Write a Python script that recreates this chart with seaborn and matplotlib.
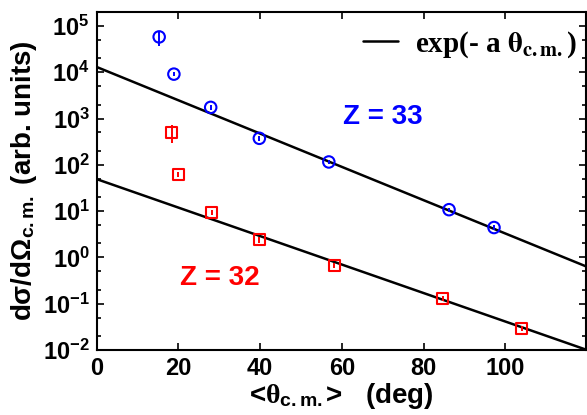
import numpy as np
import pandas as pd
import matplotlib
matplotlib.use("Agg")
import matplotlib.pyplot as plt
from matplotlib.ticker import LogLocator, FuncFormatter, FixedLocator, NullFormatter
from matplotlib.font_manager import FontProperties
import seaborn as sns

# ---- data ----
theta_z33 = [15.3, 18.9, 27.9, 39.8, 56.8, 86.2, 97.2]
sigma_z33 = [5.8e4, 9.1e3, 1.74e3, 373, 115, 10.7, 4.4]
err_z33 = [2.1e4, 1.0e3, 2.0e2, 40, 12, 1.2, 0.5]

theta_z32 = [18.4, 20.0, 28.1, 39.8, 58.1, 84.7, 104.0]
sigma_z32 = [500, 62, 9.3, 2.38, 0.68, 0.13, 0.0295]
err_z32 = [210, 8, 1.2, 0.3, 0.08, 0.015, 0.004]

# exponential curves A*exp(-a*theta)
amp_z33, slope_z33 = 1.3e4, 0.0829
amp_z32, slope_z32 = 49.0, 0.0709

x_ticks = [0, 20, 40, 60, 80, 100]
y_exps = [-2, -1, 0, 1, 2, 3, 4, 5]

sns.set_style("ticks")
plt.rcParams['font.family'] = ['Liberation Sans', 'DejaVu Sans']
plt.rcParams['font.weight'] = 'bold'
plt.rcParams['text.color'] = 'black'
plt.rcParams['axes.labelcolor'] = 'black'
plt.rcParams['xtick.color'] = 'black'
plt.rcParams['ytick.color'] = 'black'
plt.rcParams['mathtext.fontset'] = 'custom'
plt.rcParams['mathtext.rm'] = 'Liberation Sans:bold'
plt.rcParams['mathtext.bf'] = 'Liberation Sans:bold'
plt.rcParams['mathtext.it'] = 'Liberation Serif'
plt.rcParams['mathtext.sf'] = 'Liberation Sans:bold'

fig = plt.figure(figsize=(5.87, 4.15), dpi=100)
ax = fig.add_axes([0.1646, 0.157, 0.833, 0.814])

xmax = 119.6
th = np.linspace(0, xmax, 300)
df_fit = pd.DataFrame({
    'theta': np.concatenate([th, th]),
    'sigma': np.concatenate([amp_z33 * np.exp(-slope_z33 * th),
                             amp_z32 * np.exp(-slope_z32 * th)]),
    'set': ['Z33'] * len(th) + ['Z32'] * len(th),
})
sns.lineplot(data=df_fit[df_fit['set'] == 'Z33'], x='theta', y='sigma', color='black',
             lw=1.8, ax=ax, label=r'exp(- a $\mathrm{\theta}_{\mathbf{c.m.}}$)')
sns.lineplot(data=df_fit[df_fit['set'] == 'Z32'], x='theta', y='sigma', color='black',
             lw=1.8, ax=ax, legend=False)

ax.errorbar(theta_z33, sigma_z33, yerr=err_z33, fmt='none', ecolor='blue', elinewidth=1.4, capsize=0)
ax.errorbar(theta_z32, sigma_z32, yerr=err_z32, fmt='none', ecolor='red', elinewidth=1.4, capsize=0)
sns.scatterplot(x=theta_z33, y=sigma_z33, marker='o', s=68, facecolor='none',
                edgecolor='blue', linewidth=1.5, ax=ax, zorder=3)
sns.scatterplot(x=theta_z32, y=sigma_z32, marker='s', s=62, facecolor='none',
                edgecolor='red', linewidth=1.5, ax=ax, zorder=3)

ax.set_yscale('log')
ax.set_xlim(0, xmax)
ax.set_ylim(1e-2, 2e5)

ax.xaxis.set_major_locator(FixedLocator(x_ticks))
ax.yaxis.set_major_locator(FixedLocator([10.0 ** e for e in y_exps]))
ax.yaxis.set_minor_locator(LogLocator(base=10, subs=[2, 5], numticks=20))
ax.yaxis.set_minor_formatter(NullFormatter())
ax.yaxis.set_major_formatter(FuncFormatter(lambda v, p: r'$\mathbf{10^{%d}}$' % round(np.log10(v))))
ax.set_xticklabels([str(t) for t in x_ticks])

ax.tick_params(axis='both', which='both', direction='in', top=True, right=True, width=1.2)
ax.tick_params(axis='both', which='major', length=5, labelsize=17, pad=5)
ax.tick_params(axis='both', which='minor', length=3)
for lab in ax.get_xticklabels():
    lab.set_fontweight('bold')
for sp in ax.spines.values():
    sp.set_linewidth(1.5)
    sp.set_color('black')

ax.set_xlabel(r'<$\theta_{\mathbf{c.m.}}$>   (deg)', fontsize=20, fontweight='bold', labelpad=1)
ax.set_ylabel(r'dσ/dΩ$_{\mathbf{c.m.}}$ (arb. units)', fontsize=20, fontweight='bold', labelpad=3)

ax.text(0.586, 0.69, 'Z = 33', transform=ax.transAxes, color='blue', fontsize=20,
        fontweight='bold', ha='center', va='center')
ax.text(0.252, 0.213, 'Z = 32', transform=ax.transAxes, color='red', fontsize=20,
        fontweight='bold', ha='center', va='center')

leg_font = FontProperties(family='Liberation Serif', weight='bold', size=21, math_fontfamily='stix')
leg = ax.legend(loc='upper right', bbox_to_anchor=(1.0, 0.975), frameon=False, prop=leg_font,
                handlelength=1.2, handletextpad=0.6, borderpad=0.1, borderaxespad=0.2)

fig.savefig('out.png', dpi=100)
